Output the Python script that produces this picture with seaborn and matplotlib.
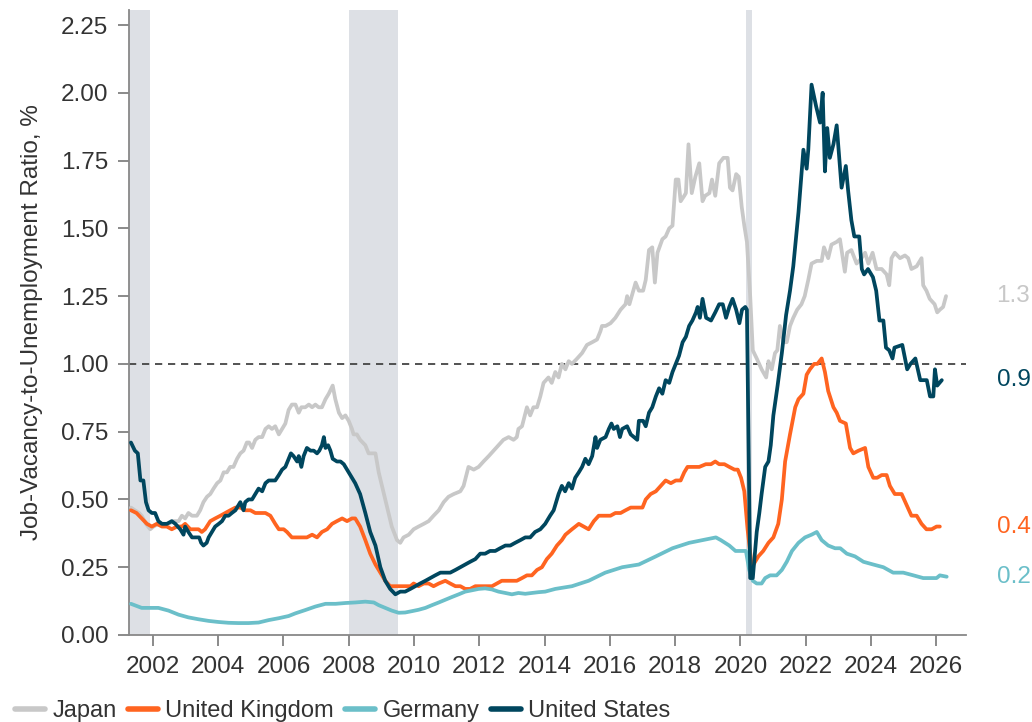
import numpy as np
import pandas as pd
import matplotlib
matplotlib.use("Agg")
import matplotlib.pyplot as plt
import matplotlib.transforms as mtransforms
from matplotlib.lines import Line2D
import seaborn as sns

# --- data (decimal years, ratio) ---
us_dates = [2001.33, 2001.45, 2001.54, 2001.62, 2001.71, 2001.79, 2001.87, 2001.97, 2002.07, 2002.17,
            2002.28, 2002.43, 2002.58, 2002.69, 2002.84, 2002.94, 2002.99, 2003.09, 2003.2, 2003.32,
            2003.42, 2003.48, 2003.55, 2003.65, 2003.71, 2003.81, 2003.91, 2004.02, 2004.12, 2004.22,
            2004.32, 2004.42, 2004.53, 2004.58, 2004.68, 2004.78, 2004.83, 2004.93, 2005.04, 2005.14,
            2005.24, 2005.35, 2005.45, 2005.55, 2005.65, 2005.75, 2005.86, 2005.96, 2006.06, 2006.16,
            2006.23, 2006.31, 2006.42, 2006.47, 2006.55, 2006.62, 2006.72, 2006.83, 2006.93, 2007.03,
            2007.1, 2007.18, 2007.24, 2007.29, 2007.37, 2007.44, 2007.51, 2007.64, 2007.75, 2007.85,
            2007.95, 2008.05, 2008.2, 2008.35, 2008.51, 2008.66, 2008.82, 2008.97, 2009.12, 2009.27,
            2009.43, 2009.58, 2009.73, 2009.89, 2010.04, 2010.19, 2010.35, 2010.5, 2010.65, 2010.81,
            2010.96, 2011.11, 2011.27, 2011.42, 2011.57, 2011.72, 2011.88, 2012.03, 2012.18, 2012.33,
            2012.49, 2012.64, 2012.8, 2012.95, 2013.1, 2013.26, 2013.41, 2013.56, 2013.71, 2013.87,
            2014.02, 2014.17, 2014.28, 2014.43, 2014.53, 2014.63, 2014.74, 2014.84, 2014.94, 2015.05,
            2015.15, 2015.25, 2015.35, 2015.46, 2015.56, 2015.61, 2015.71, 2015.87, 2015.97, 2016.05,
            2016.12, 2016.23, 2016.31, 2016.38, 2016.53, 2016.64, 2016.74, 2016.84, 2016.89, 2017.02,
            2017.1, 2017.2, 2017.3, 2017.41, 2017.51, 2017.61, 2017.71, 2017.82, 2017.92, 2018.02,
            2018.12, 2018.23, 2018.33, 2018.43, 2018.53, 2018.64, 2018.69, 2018.76, 2018.84, 2018.95,
            2019.1, 2019.23, 2019.35, 2019.46, 2019.56, 2019.66, 2019.76, 2019.87, 2019.97, 2020.05,
            2020.15, 2020.2, 2020.3, 2020.38, 2020.5, 2020.58, 2020.65, 2020.76, 2020.86, 2020.93,
            2021.01, 2021.14, 2021.27, 2021.4, 2021.52, 2021.62, 2021.7, 2021.78, 2021.86, 2021.93,
            2022.03, 2022.08, 2022.18, 2022.32, 2022.44, 2022.52, 2022.59, 2022.66, 2022.74, 2022.85,
            2022.95, 2023.1, 2023.23, 2023.3, 2023.4, 2023.49, 2023.64, 2023.72, 2023.79, 2023.91,
            2024.06, 2024.16, 2024.26, 2024.38, 2024.46, 2024.56, 2024.66, 2024.72, 2024.96, 2025.11,
            2025.21, 2025.36, 2025.51, 2025.61, 2025.71, 2025.81, 2025.91, 2025.96, 2026.03, 2026.17]
us_values = [0.71, 0.68, 0.67, 0.57, 0.57, 0.49, 0.46, 0.45, 0.45, 0.42,
             0.41, 0.41, 0.42, 0.41, 0.39, 0.37, 0.40, 0.38, 0.36, 0.36,
             0.36, 0.34, 0.33, 0.34, 0.36, 0.38, 0.40, 0.41, 0.42, 0.44,
             0.44, 0.45, 0.46, 0.47, 0.49, 0.46, 0.49, 0.50, 0.50, 0.52,
             0.54, 0.53, 0.56, 0.57, 0.57, 0.57, 0.59, 0.61, 0.62, 0.65,
             0.67, 0.66, 0.64, 0.66, 0.62, 0.66, 0.69, 0.68, 0.68, 0.67,
             0.68, 0.70, 0.73, 0.69, 0.70, 0.68, 0.65, 0.64, 0.64, 0.63,
             0.61, 0.59, 0.56, 0.52, 0.45, 0.38, 0.33, 0.25, 0.20, 0.17,
             0.15, 0.16, 0.16, 0.17, 0.18, 0.19, 0.20, 0.21, 0.22, 0.23,
             0.23, 0.23, 0.24, 0.25, 0.26, 0.27, 0.28, 0.30, 0.30, 0.31,
             0.31, 0.32, 0.33, 0.33, 0.34, 0.35, 0.36, 0.36, 0.38, 0.39,
             0.41, 0.44, 0.46, 0.52, 0.55, 0.53, 0.56, 0.54, 0.58, 0.60,
             0.62, 0.65, 0.63, 0.66, 0.73, 0.69, 0.72, 0.73, 0.76, 0.78,
             0.76, 0.77, 0.73, 0.76, 0.77, 0.74, 0.73, 0.72, 0.79, 0.79,
             0.77, 0.82, 0.84, 0.88, 0.91, 0.89, 0.94, 0.93, 0.97, 1.00,
             1.03, 1.08, 1.10, 1.14, 1.16, 1.19, 1.21, 1.17, 1.24, 1.17,
             1.16, 1.19, 1.22, 1.22, 1.17, 1.21, 1.24, 1.20, 1.15, 1.20,
             1.21, 1.20, 0.21, 0.21, 0.38, 0.45, 0.52, 0.62, 0.64, 0.70,
             0.81, 0.92, 1.04, 1.18, 1.27, 1.36, 1.46, 1.56, 1.68, 1.79,
             1.72, 1.79, 2.03, 1.95, 1.89, 2.00, 1.71, 1.87, 1.76, 1.81,
             1.88, 1.65, 1.73, 1.64, 1.53, 1.47, 1.47, 1.35, 1.33, 1.35,
             1.32, 1.27, 1.16, 1.16, 1.06, 1.05, 1.02, 1.06, 1.07, 0.98,
             1.00, 1.02, 0.94, 0.94, 0.94, 0.88, 0.88, 0.98, 0.92, 0.94]

jp_dates = [2001.33, 2001.45, 2001.58, 2001.66, 2001.79, 2001.92, 2002.02, 2002.17, 2002.33, 2002.48,
            2002.64, 2002.79, 2002.89, 2002.99, 2003.09, 2003.2, 2003.35, 2003.45, 2003.55, 2003.66,
            2003.76, 2003.86, 2003.97, 2004.07, 2004.17, 2004.27, 2004.37, 2004.47, 2004.58, 2004.68,
            2004.78, 2004.88, 2004.95, 2005.04, 2005.14, 2005.24, 2005.35, 2005.45, 2005.55, 2005.65,
            2005.75, 2005.86, 2005.96, 2006.06, 2006.16, 2006.26, 2006.37, 2006.47, 2006.55, 2006.67,
            2006.78, 2006.88, 2006.98, 2007.08, 2007.18, 2007.29, 2007.39, 2007.51, 2007.59, 2007.7,
            2007.8, 2007.9, 2008.0, 2008.1, 2008.15, 2008.25, 2008.35, 2008.51, 2008.61, 2008.71,
            2008.82, 2008.92, 2009.02, 2009.12, 2009.22, 2009.32, 2009.48, 2009.58, 2009.68, 2009.84,
            2009.99, 2010.14, 2010.3, 2010.45, 2010.6, 2010.76, 2010.91, 2011.06, 2011.22, 2011.42,
            2011.52, 2011.67, 2011.83, 2011.98, 2012.13, 2012.29, 2012.44, 2012.59, 2012.74, 2012.9,
            2013.05, 2013.15, 2013.2, 2013.31, 2013.46, 2013.56, 2013.66, 2013.77, 2013.87, 2013.97,
            2014.12, 2014.22, 2014.33, 2014.43, 2014.53, 2014.64, 2014.74, 2014.84, 2015.0, 2015.15,
            2015.3, 2015.46, 2015.61, 2015.71, 2015.76, 2015.87, 2016.02, 2016.17, 2016.33, 2016.48,
            2016.53, 2016.6, 2016.74, 2016.79, 2016.89, 2017.02, 2017.1, 2017.2, 2017.3, 2017.38,
            2017.46, 2017.61, 2017.71, 2017.82, 2017.92, 2018.02, 2018.1, 2018.17, 2018.28, 2018.33,
            2018.41, 2018.51, 2018.62, 2018.74, 2018.84, 2018.92, 2019.05, 2019.13, 2019.23, 2019.35,
            2019.48, 2019.61, 2019.68, 2019.76, 2019.87, 2019.95, 2020.04, 2020.12, 2020.2, 2020.3,
            2020.38, 2020.5, 2020.65, 2020.79, 2020.86, 2020.96, 2021.06, 2021.13, 2021.21, 2021.32,
            2021.42, 2021.52, 2021.62, 2021.74, 2021.87, 2021.97, 2022.08, 2022.18, 2022.34, 2022.49,
            2022.56, 2022.69, 2022.79, 2022.95, 2023.05, 2023.2, 2023.27, 2023.4, 2023.56, 2023.71,
            2023.82, 2023.92, 2024.05, 2024.17, 2024.33, 2024.48, 2024.56, 2024.63, 2024.73, 2024.89,
            2025.04, 2025.14, 2025.24, 2025.4, 2025.55, 2025.6, 2025.7, 2025.8, 2025.95, 2026.03,
            2026.11, 2026.21, 2026.3]
jp_values = [0.47, 0.46, 0.45, 0.44, 0.41, 0.39, 0.40, 0.41, 0.41, 0.41,
             0.42, 0.42, 0.44, 0.43, 0.45, 0.44, 0.44, 0.46, 0.49, 0.51,
             0.52, 0.54, 0.56, 0.57, 0.60, 0.60, 0.62, 0.62, 0.65, 0.67,
             0.68, 0.71, 0.71, 0.69, 0.72, 0.73, 0.73, 0.76, 0.77, 0.76,
             0.77, 0.74, 0.76, 0.78, 0.83, 0.85, 0.85, 0.82, 0.84, 0.84,
             0.85, 0.84, 0.85, 0.84, 0.84, 0.87, 0.89, 0.92, 0.87, 0.82,
             0.80, 0.81, 0.79, 0.76, 0.74, 0.74, 0.72, 0.70, 0.67, 0.67,
             0.67, 0.60, 0.55, 0.50, 0.45, 0.40, 0.35, 0.34, 0.36, 0.37,
             0.39, 0.40, 0.41, 0.42, 0.44, 0.46, 0.49, 0.51, 0.52, 0.53,
             0.55, 0.62, 0.61, 0.62, 0.64, 0.66, 0.68, 0.70, 0.72, 0.73,
             0.72, 0.73, 0.76, 0.77, 0.84, 0.81, 0.84, 0.84, 0.88, 0.93,
             0.95, 0.93, 0.97, 0.95, 1.00, 0.98, 1.01, 1.00, 1.02, 1.04,
             1.07, 1.08, 1.09, 1.12, 1.14, 1.14, 1.15, 1.17, 1.20, 1.22,
             1.25, 1.22, 1.28, 1.30, 1.27, 1.27, 1.31, 1.42, 1.43, 1.30,
             1.41, 1.46, 1.47, 1.50, 1.51, 1.68, 1.68, 1.60, 1.62, 1.63,
             1.81, 1.63, 1.69, 1.74, 1.60, 1.62, 1.63, 1.68, 1.62, 1.74,
             1.76, 1.76, 1.65, 1.64, 1.70, 1.69, 1.58, 1.51, 1.45, 1.25,
             1.05, 1.02, 0.98, 0.95, 1.01, 0.98, 1.04, 1.05, 1.14, 1.08,
             1.08, 1.14, 1.17, 1.20, 1.22, 1.25, 1.31, 1.37, 1.38, 1.38,
             1.43, 1.39, 1.44, 1.45, 1.46, 1.34, 1.41, 1.42, 1.37, 1.39,
             1.41, 1.37, 1.41, 1.35, 1.35, 1.33, 1.29, 1.39, 1.41, 1.39,
             1.40, 1.39, 1.35, 1.36, 1.39, 1.29, 1.27, 1.24, 1.22, 1.19,
             1.20, 1.21, 1.25]

uk_dates = [2001.33, 2001.5, 2001.66, 2001.82, 2001.97, 2002.12, 2002.28, 2002.43, 2002.58, 2002.74,
            2002.89, 2002.99, 2003.15, 2003.3, 2003.4, 2003.5, 2003.6, 2003.76, 2003.91, 2004.07,
            2004.22, 2004.37, 2004.53, 2004.68, 2004.83, 2004.99, 2005.14, 2005.3, 2005.45, 2005.6,
            2005.75, 2005.86, 2006.01, 2006.11, 2006.26, 2006.42, 2006.57, 2006.72, 2006.88, 2007.03,
            2007.18, 2007.34, 2007.49, 2007.64, 2007.8, 2007.95, 2008.1, 2008.2, 2008.35, 2008.51,
            2008.66, 2008.82, 2008.97, 2009.12, 2009.27, 2009.43, 2009.58, 2009.73, 2009.89, 2009.99,
            2010.14, 2010.3, 2010.45, 2010.6, 2010.76, 2010.96, 2011.11, 2011.27, 2011.42, 2011.57,
            2011.72, 2011.88, 2012.08, 2012.24, 2012.39, 2012.54, 2012.69, 2012.85, 2013.0, 2013.15,
            2013.31, 2013.46, 2013.61, 2013.77, 2013.92, 2014.07, 2014.22, 2014.38, 2014.53, 2014.64,
            2014.84, 2015.05, 2015.2, 2015.35, 2015.51, 2015.66, 2015.82, 2016.02, 2016.17, 2016.33,
            2016.48, 2016.64, 2016.79, 2017.0, 2017.1, 2017.25, 2017.41, 2017.56, 2017.71, 2017.87,
            2018.02, 2018.17, 2018.28, 2018.38, 2018.53, 2018.74, 2018.94, 2019.1, 2019.23, 2019.35,
            2019.51, 2019.66, 2019.82, 2019.92, 2020.02, 2020.12, 2020.22, 2020.35, 2020.45, 2020.55,
            2020.7, 2020.86, 2021.01, 2021.16, 2021.27, 2021.37, 2021.52, 2021.68, 2021.78, 2021.93,
            2022.03, 2022.13, 2022.26, 2022.36, 2022.49, 2022.59, 2022.69, 2022.85, 2022.95, 2023.05,
            2023.23, 2023.36, 2023.46, 2023.62, 2023.82, 2023.92, 2024.07, 2024.19, 2024.33, 2024.48,
            2024.58, 2024.73, 2024.94, 2025.09, 2025.24, 2025.4, 2025.55, 2025.7, 2025.86, 2026.01,
            2026.11]
uk_values = [0.46, 0.45, 0.43, 0.41, 0.40, 0.41, 0.40, 0.40, 0.39, 0.40,
             0.40, 0.41, 0.39, 0.39, 0.39, 0.38, 0.39, 0.42, 0.43, 0.44,
             0.45, 0.46, 0.47, 0.47, 0.46, 0.46, 0.45, 0.45, 0.45, 0.44,
             0.41, 0.39, 0.39, 0.38, 0.36, 0.36, 0.36, 0.36, 0.37, 0.36,
             0.38, 0.39, 0.41, 0.42, 0.43, 0.42, 0.43, 0.43, 0.40, 0.35,
             0.30, 0.26, 0.23, 0.20, 0.18, 0.18, 0.18, 0.18, 0.18, 0.19,
             0.18, 0.19, 0.19, 0.18, 0.19, 0.20, 0.19, 0.18, 0.18, 0.17,
             0.17, 0.18, 0.18, 0.18, 0.18, 0.19, 0.20, 0.20, 0.20, 0.20,
             0.21, 0.22, 0.22, 0.24, 0.25, 0.28, 0.30, 0.33, 0.35, 0.37,
             0.39, 0.41, 0.40, 0.39, 0.42, 0.44, 0.44, 0.44, 0.45, 0.45,
             0.46, 0.47, 0.47, 0.47, 0.50, 0.52, 0.53, 0.55, 0.57, 0.56,
             0.57, 0.57, 0.60, 0.62, 0.62, 0.62, 0.63, 0.63, 0.64, 0.63,
             0.63, 0.62, 0.61, 0.61, 0.58, 0.53, 0.39, 0.25, 0.27, 0.29,
             0.31, 0.34, 0.36, 0.41, 0.50, 0.64, 0.74, 0.84, 0.87, 0.89,
             0.96, 0.98, 1.00, 1.00, 1.02, 0.97, 0.90, 0.84, 0.82, 0.79,
             0.78, 0.69, 0.67, 0.68, 0.69, 0.62, 0.58, 0.58, 0.59, 0.59,
             0.55, 0.52, 0.52, 0.48, 0.44, 0.44, 0.41, 0.39, 0.39, 0.40,
             0.40]

de_dates = [2001.33, 2001.66, 2001.97, 2002.17, 2002.48, 2002.79, 2003.09, 2003.4, 2003.71, 2004.01,
            2004.32, 2004.62, 2004.93, 2005.24, 2005.55, 2005.86, 2006.16, 2006.37, 2006.67, 2006.98,
            2007.29, 2007.6, 2007.9, 2008.2, 2008.51, 2008.77, 2008.92, 2009.12, 2009.32, 2009.53,
            2009.73, 2009.94, 2010.14, 2010.35, 2010.55, 2010.76, 2010.96, 2011.16, 2011.37, 2011.57,
            2011.78, 2011.98, 2012.18, 2012.39, 2012.59, 2012.8, 2013.0, 2013.2, 2013.41, 2013.61,
            2013.82, 2014.02, 2014.33, 2014.84, 2015.35, 2015.86, 2016.38, 2016.89, 2017.41, 2017.92,
            2018.43, 2018.84, 2019.25, 2019.4, 2019.66, 2019.85, 2020.02, 2020.17, 2020.27, 2020.38,
            2020.5, 2020.65, 2020.76, 2020.91, 2021.11, 2021.27, 2021.42, 2021.58, 2021.78, 2021.98,
            2022.18, 2022.34, 2022.49, 2022.69, 2022.9, 2023.06, 2023.26, 2023.51, 2023.77, 2024.07,
            2024.38, 2024.68, 2024.99, 2025.3, 2025.6, 2025.81, 2026.01, 2026.11, 2026.32]
de_values = [0.115, 0.10, 0.10, 0.10, 0.09, 0.075, 0.065, 0.058, 0.052, 0.048,
             0.045, 0.044, 0.044, 0.046, 0.055, 0.062, 0.07, 0.08, 0.092, 0.105,
             0.115, 0.115, 0.118, 0.12, 0.123, 0.12, 0.11, 0.10, 0.09, 0.082,
             0.083, 0.088, 0.093, 0.10, 0.11, 0.12, 0.13, 0.14, 0.15, 0.16,
             0.165, 0.17, 0.172, 0.168, 0.16, 0.155, 0.15, 0.155, 0.152, 0.155,
             0.158, 0.16, 0.17, 0.18, 0.20, 0.23, 0.25, 0.26, 0.29, 0.32,
             0.34, 0.35, 0.36, 0.35, 0.33, 0.31, 0.31, 0.31, 0.24, 0.20,
             0.19, 0.19, 0.21, 0.22, 0.22, 0.24, 0.27, 0.31, 0.34, 0.36,
             0.37, 0.38, 0.35, 0.33, 0.32, 0.32, 0.30, 0.29, 0.27, 0.26,
             0.25, 0.23, 0.23, 0.22, 0.21, 0.21, 0.21, 0.22, 0.215]

# recessions (shaded)
rec_start = [2001.17, 2008.0, 2020.17]
rec_end = [2001.92, 2009.5, 2020.35]

countries = ["Japan", "United Kingdom", "Germany", "United States"]
colors = {"Japan": "#c8c8c8", "United Kingdom": "#ff6420",
          "Germany": "#6bbfc9", "United States": "#00465e"}

series = {"Japan": (jp_dates, jp_values), "United Kingdom": (uk_dates, uk_values),
          "Germany": (de_dates, de_values), "United States": (us_dates, us_values)}
df = pd.concat([pd.DataFrame({"date": d, "ratio": v, "country": c})
                for c, (d, v) in series.items()], ignore_index=True)

sns.set_theme(style="ticks")
plt.rcParams["font.family"] = ["Liberation Sans", "DejaVu Sans"]

fig = plt.figure(figsize=(10.32, 7.22), dpi=100)
ax = fig.add_axes([0.125, 0.1205, 0.811, 0.8655])

for s, e in zip(rec_start, rec_end):
    ax.axvspan(s, e, color="#dde0e5", lw=0, zorder=0)
ax.axhline(1.0, color="#444444", lw=1.3, ls=(0, (4, 3.2)), zorder=1)

sns.lineplot(data=df, x="date", y="ratio", hue="country", hue_order=countries,
             palette=colors, estimator=None, sort=False, lw=2.7, ax=ax,
             zorder=3, legend=False)

ax.set_xlim(2001.27, 2026.91)
ax.set_ylim(0, 2.305)
ax.set_xticks(range(2002, 2027, 2))
ax.set_yticks(np.arange(0, 2.26, 0.25))
ax.set_yticklabels([f"{t:.2f}" for t in np.arange(0, 2.26, 0.25)])
ax.set_xlabel("")
ax.set_ylabel("Job-Vacancy-to-Unemployment Ratio, %", fontsize=17.5, color="#333333")
ax.yaxis.set_label_coords(-0.103, 0.5)
ax.tick_params(length=8, width=1.2, color="#777777", labelsize=17.5,
               labelcolor="#333333", pad=7)
sns.despine(ax=ax)
for side in ["left", "bottom"]:
    ax.spines[side].set_color("#888888")
    ax.spines[side].set_linewidth(1.3)

# end-of-series labels
trans = mtransforms.blended_transform_factory(ax.transAxes, ax.transData)
for c in countries:
    last = series[c][1][-1]
    ax.annotate(f"{np.floor(last * 10 + 0.5) / 10:.1f}", xy=(1.0, last), xycoords=trans,
                xytext=(22, 0), textcoords="offset points", ha="left", va="center",
                fontsize=17.5, color=colors[c], annotation_clip=False)

handles = [Line2D([0], [0], color=colors[c], lw=4) for c in countries]
fig.legend(handles, countries, loc="center left", bbox_to_anchor=(0.0145, 0.015),
           ncol=4, frameon=False, fontsize=17, handlelength=1.27, handletextpad=0.32,
           columnspacing=0.47, borderpad=0, borderaxespad=0, labelcolor="#333333")

fig.savefig("out.png", dpi=100)
